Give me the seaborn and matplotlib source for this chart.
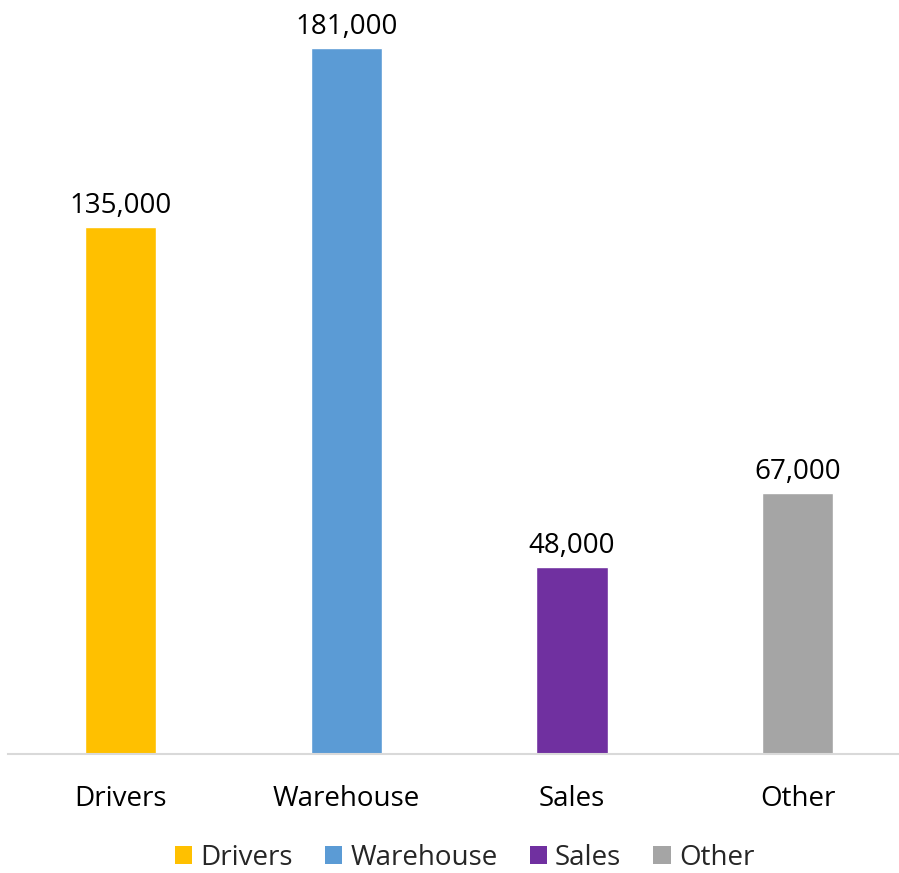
import matplotlib
matplotlib.use("Agg")
import matplotlib.pyplot as plt
from matplotlib.patches import Patch
import seaborn as sns
import pandas as pd

categories = ["Drivers", "Warehouse", "Sales", "Other"]
values = [135000, 181000, 48000, 67000]
colors = ["#FFC000", "#5B9BD5", "#7030A0", "#A5A5A5"]

sns.set_theme(style="white")
plt.rcParams["font.family"] = ["Open Sans", "DejaVu Sans"]

df = pd.DataFrame({"category": categories, "value": values})
palette = dict(zip(categories, colors))

W, H = 899, 873
fig = plt.figure(figsize=(W / 100, H / 100), dpi=100)
ax = fig.add_axes([8 / W, (H - 754) / H, 890 / W, 744 / H])

sns.barplot(data=df, x="category", y="value", hue="category", palette=palette,
            width=0.315, dodge=False, legend=False, saturation=1, ax=ax)

ax.set_xlim(-0.5, -0.5 + 890 / 225.6)
ax.set_ylim(0, 744 / ((754 - 48) / 181000))

for i, v in enumerate(values):
    ax.annotate(f"{v:,}", (i, v), xytext=(0, 5), textcoords="offset points",
                ha="center", va="bottom", fontsize=20, color="#000000")

for s in ["top", "right", "left"]:
    ax.spines[s].set_visible(False)
ax.spines["bottom"].set_color("#D9D9D9")
ax.spines["bottom"].set_linewidth(1.5)
ax.set_yticks([])
ax.set_xlabel("")
ax.set_ylabel("")
ax.tick_params(axis="x", length=0, pad=22, labelsize=20, labelcolor="#000000")

handles = [Patch(facecolor=c, edgecolor="none", label=l) for l, c in zip(categories, colors)]
fig.legend(handles=handles, loc="center", bbox_to_anchor=(464.5 / W, 1 - 858 / H), ncol=4,
           frameon=False, fontsize=20, handlelength=0.62, handleheight=0.62,
           handletextpad=0.3, columnspacing=1.15, borderpad=0)

fig.savefig("out.png", dpi=100)
